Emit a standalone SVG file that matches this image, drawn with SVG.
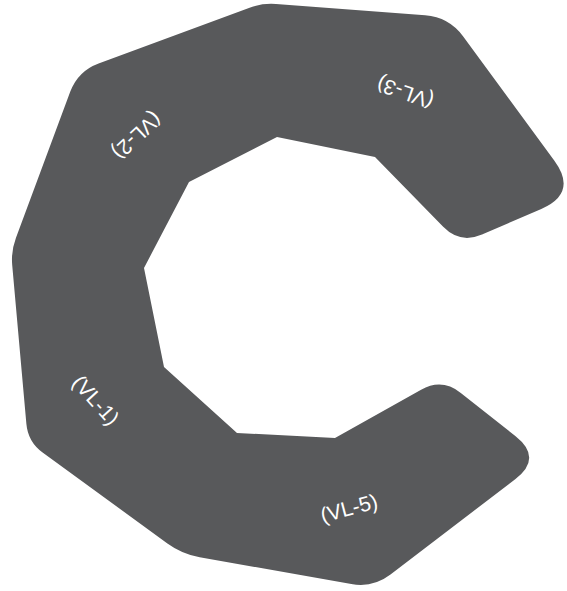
<svg xmlns="http://www.w3.org/2000/svg" width="567" height="591" viewBox="0 0 567 591">
<style>
.band{fill:#58595b;stroke:none}
.lbl{fill:#ffffff;font-family:"Liberation Sans",Arial,Helvetica,sans-serif;font-size:21px;text-anchor:middle;dominant-baseline:central}
</style>
<rect width="567" height="591" fill="#ffffff"/>
<g id="ring">
<path class="band" d="M 98.6,63.4 L 248.9,7.9 Q 262,3 276,4.05 L 425.1,15.2 Q 449,17 463.2,36.4 L 554.4,160.7 Q 578,193 541.3,208.9 L 482,234.5 Q 460,244 443.2,226.8 L 375,157 L 277,137 L 189,182 L 144,268 L 164,367 L 237,433 L 335,438 L 421.1,389.7 Q 442,378 460.8,392.9 L 515.6,436.3 Q 543,458 515.2,479.2 L 390.5,574.6 Q 373,588 351.3,584.1 L 199.7,557.2 Q 182,554 167.4,543.4 L 42.6,452.6 Q 28,442 26.4,424.1 L 12.2,264.9 Q 11,251 15.9,237.9 L 70.3,91.6 Q 78,71 98.6,63.4 Z"/>
</g>
<g id="vl-2"><text class="lbl" transform="translate(137,136) rotate(137)">(VL-2)</text></g>
<g id="vl-3"><text class="lbl" transform="translate(405,93) rotate(199)">(VL-3)</text></g>
<g id="vl-1"><text class="lbl" transform="translate(96,400) rotate(48)">(VL-1)</text></g>
<g id="vl-5"><text class="lbl" transform="translate(349,508) rotate(-15)">(VL-5)</text></g>
</svg>
